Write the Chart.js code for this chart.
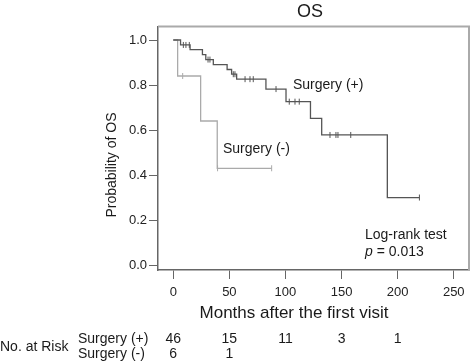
<!DOCTYPE html>
<html>
<head>
<meta charset="utf-8">
<script src="https://cdn.jsdelivr.net/npm/chart.js@4/dist/chart.umd.min.js"></script>
<style>
  html, body { margin: 0; padding: 0; background: #fff; }
  #os { display: block; }
</style>
</head>
<body>
<canvas id="os" width="474" height="361"></canvas>
<script>
// Kaplan-Meier steps (months, survival after the step)
var plusTimes = [0, 6.5, 15, 26, 29, 35.7, 48, 52, 56.5, 82.6, 100.5, 122.3, 132.3, 190.8, 219.4];
var plusSurv  = [1.0, 0.978, 0.957, 0.935, 0.913, 0.891, 0.869, 0.848, 0.826, 0.782, 0.726, 0.652, 0.578, 0.30, 0.30];
var plusCensor = [9, 11.3, 14.3, 31, 32.7, 53.5, 55, 64, 68.4, 71.3, 91.6, 103.4, 108.5, 112.3, 139.7, 145, 146.8, 158.2, 219.4];

var minusTimes = [0, 3.9, 24.4, 39.2, 87.7];
var minusSurv  = [1.0, 0.84, 0.64, 0.43, 0.43];
var minusCensor = [8.4, 39.5, 87.7];

var xTicks = [0, 50, 100, 150, 200, 250];
var yTicks = [0, 0.2, 0.4, 0.6, 0.8, 1.0];

// numbers at risk
var riskTimes = [0, 50, 100, 150, 200];
var riskPlus  = [46, 15, 11, 3, 1];
var riskMinus = [6, 1];

var FONT = '"Liberation Sans", Arial, sans-serif';

function toPoints(times, surv) {
  return times.map(function(t, i) { return {x: t, y: surv[i]}; });
}
// level of the step curve at a censor time
function levelAt(times, surv, t) {
  var lv = surv[0];
  for (var i = 0; i < times.length; i++) { if (times[i] <= t) lv = surv[i]; }
  return lv;
}
function censorPoints(cens, times, surv) {
  return cens.map(function(t) { return {x: t, y: levelAt(times, surv, t)}; });
}

var extras = {
  id: 'extras',
  afterDraw: function(chart) {
    var ctx = chart.ctx, a = chart.chartArea, xs = chart.scales.x;
    ctx.save();
    // top and right frame
    ctx.strokeStyle = '#aaa';
    ctx.lineWidth = 2;
    ctx.beginPath();
    ctx.moveTo(a.left, a.top);
    ctx.lineTo(a.right, a.top);
    ctx.lineTo(a.right, a.bottom);
    ctx.stroke();

    ctx.fillStyle = '#1a1a1a';
    ctx.textBaseline = 'middle';
    ctx.textAlign = 'center';
    ctx.font = '18px ' + FONT;
    ctx.fillText('OS', 310, 12);

    ctx.font = '17px ' + FONT;
    ctx.fillText('Months after the first visit', 294, 313);

    ctx.font = '14px ' + FONT;
    ctx.save();
    ctx.translate(112, 165);
    ctx.rotate(-Math.PI / 2);
    ctx.fillText('Probability of OS', 0, 0);
    ctx.restore();

    ctx.textAlign = 'left';
    ctx.fillText('Surgery (+)', 293, 85);
    ctx.fillText('Surgery (-)', 223, 149);
    ctx.fillText('Log-rank test', 365, 235);
    ctx.font = 'italic 14px ' + FONT;
    ctx.fillText('p', 365, 252);
    var pw = ctx.measureText('p').width;
    ctx.font = '14px ' + FONT;
    ctx.fillText(' = 0.013', 365 + pw, 252);

    // risk table
    ctx.fillText('No. at Risk', 0, 347);
    ctx.fillText('Surgery (+)', 78, 339);
    ctx.fillText('Surgery (-)', 78, 354);
    ctx.textAlign = 'center';
    riskPlus.forEach(function(n, i) {
      ctx.fillText(String(n), xs.getPixelForValue(riskTimes[i]), 339);
    });
    riskMinus.forEach(function(n, i) {
      ctx.fillText(String(n), xs.getPixelForValue(riskTimes[i]), 354);
    });
    ctx.restore();
  }
};

new Chart('os', {
  type: 'line',
  data: {
    datasets: [
      {
        label: 'Surgery (+)',
        data: toPoints(plusTimes, plusSurv),
        stepped: true,
        borderColor: '#555',
        borderWidth: 1.3,
        pointRadius: 0,
        fill: false,
      },
      {
        label: 'Surgery (+) censored',
        data: censorPoints(plusCensor, plusTimes, plusSurv),
        showLine: false,
        pointStyle: 'line',
        rotation: 90,
        pointRadius: 3,
        borderColor: '#555',
        borderWidth: 1,
      },
      {
        label: 'Surgery (-)',
        data: toPoints(minusTimes, minusSurv),
        stepped: true,
        borderColor: '#aaa',
        borderWidth: 1.3,
        pointRadius: 0,
        fill: false,
      },
      {
        label: 'Surgery (-) censored',
        data: censorPoints(minusCensor, minusTimes, minusSurv),
        showLine: false,
        pointStyle: 'line',
        rotation: 90,
        pointRadius: 3,
        borderColor: '#aaa',
        borderWidth: 1,
      },
    ]
  },
  options: {
    responsive: false,
    animation: false,
    layout: { padding: { left: 0, top: 26.5, right: 5, bottom: 0 } },
    plugins: {
      legend: { display: false },
      tooltip: { enabled: false },
    },
    scales: {
      x: {
        type: 'linear',
        min: -13.6,
        max: 263.6,
        afterBuildTicks: function(s) { s.ticks = xTicks.map(function(v) { return {value: v}; }); },
        afterFit: function(s) { s.height = 91; },
        grid: { drawOnChartArea: false, tickLength: 9, color: '#666' },
        border: { color: '#666', width: 1.5 },
        ticks: {
          font: { family: FONT, size: 13 },
          color: '#222',
          padding: 6,
          maxRotation: 0,
          autoSkip: false,
        },
      },
      y: {
        type: 'linear',
        min: -0.022,
        max: 1.06,
        afterBuildTicks: function(s) { s.ticks = yTicks.map(function(v) { return {value: v}; }); },
        afterFit: function(s) { s.width = 158; },
        grid: { drawOnChartArea: false, tickLength: 9, color: '#666' },
        border: { color: '#666', width: 1.5 },
        ticks: {
          font: { family: FONT, size: 13 },
          color: '#222',
          padding: 2,
          callback: function(v) { return v.toFixed(1); },
        },
      },
    }
  },
  plugins: [extras]
});
</script>
</body>
</html>
